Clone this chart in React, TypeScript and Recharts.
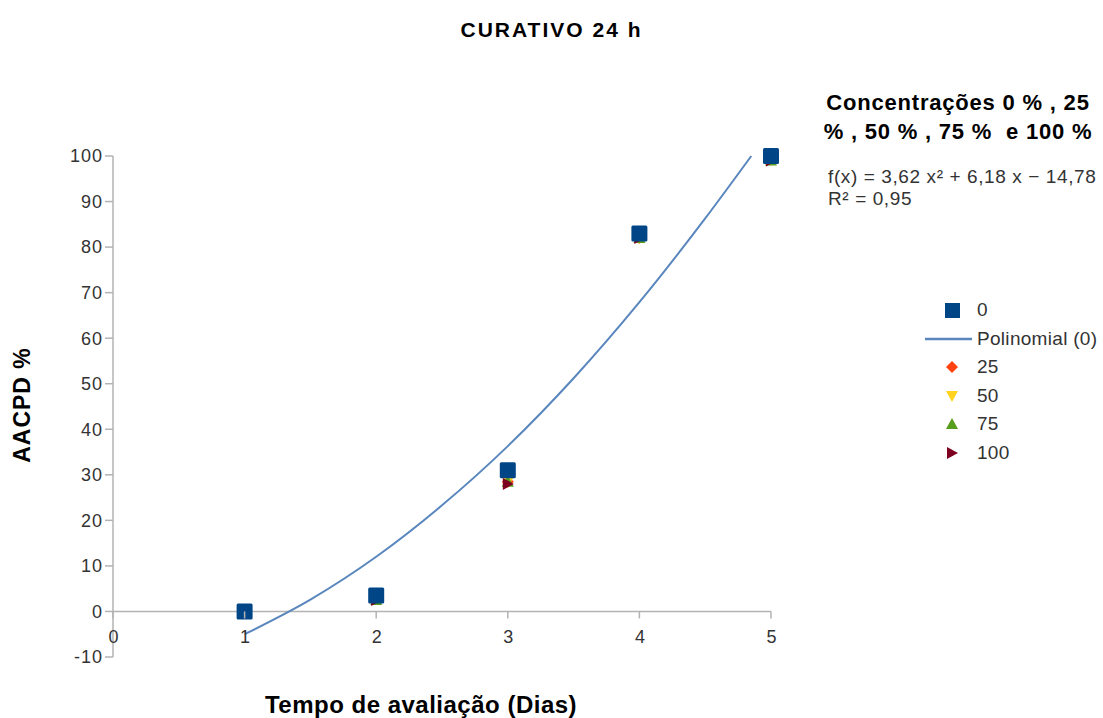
import { ComposedChart, Line, ReferenceLine, Scatter, XAxis, YAxis } from "recharts";

const days = [1, 2, 3, 4, 5];
const conc0 = [0, 3.5, 31, 83, 100];
const conc25 = [0, 3, 28.5, 82, 99.5];
const conc50 = [0, 3, 28.5, 82, 99];
const conc75 = [0, 2.5, 28.5, 82, 99];
const conc100 = [0, 2.5, 28, 82, 99];

// trend line points
const trendX = [1, 1.5, 2, 2.5, 3, 3.5, 4, 4.5, 4.85];
const trendY = [-5, 2.6, 12, 23.3, 36.3, 51.2, 67.9, 86.3, 100];

const xTicks = [0, 1, 2, 3, 4, 5];
const yTicks = [-10, 0, 10, 20, 30, 40, 50, 60, 70, 80, 90, 100];

const W = 1103;
const H = 718;
const PLOT_LEFT = 113;
const PLOT_RIGHT = 771;
const PLOT_TOP = 156;
const PLOT_BOTTOM = 657;
const X_AXIS_H = 30;
const Y_MIN = -10;
const Y_MAX = 100;
const Y_ZERO = PLOT_BOTTOM - ((0 - Y_MIN) / (Y_MAX - Y_MIN)) * (PLOT_BOTTOM - PLOT_TOP);

const FONT = "'Liberation Sans', Arial, sans-serif";
const AXIS = "#b3b3b3";
const TEXT = "#333333";

const C0 = "#004586";
const C25 = "#ff420e";
const C50 = "#ffd320";
const C75 = "#579d1c";
const C100 = "#7e0021";
const TREND = "#5a86be";

const toPoints = (ys: number[]) => days.map((x, i) => ({ x, y: ys[i] }));
const trendData = trendX.map((x, i) => ({ x, y: trendY[i] }));

const Square = (p: any) => (
  <rect x={p.cx - 8} y={p.cy - 8} width={16} height={16} rx={1.5} fill={C0} />
);
const Diamond = (p: any) => (
  <path d={`M${p.cx},${p.cy - 6} L${p.cx + 6},${p.cy} L${p.cx},${p.cy + 6} L${p.cx - 6},${p.cy} Z`} fill={C25} />
);
const TriDown = (p: any) => (
  <path d={`M${p.cx - 6},${p.cy - 5} L${p.cx + 6},${p.cy - 5} L${p.cx},${p.cy + 6} Z`} fill={C50} />
);
const TriUp = (p: any) => (
  <path d={`M${p.cx - 6},${p.cy + 5} L${p.cx + 6},${p.cy + 5} L${p.cx},${p.cy - 6} Z`} fill={C75} />
);
const TriRight = (p: any) => (
  <path d={`M${p.cx - 5},${p.cy - 6} L${p.cx - 5},${p.cy + 6} L${p.cx + 6},${p.cy} Z`} fill={C100} />
);

const XTick = (p: any) => (
  <g>
    <line x1={p.x} x2={p.x} y1={Y_ZERO} y2={Y_ZERO + 7} stroke={AXIS} strokeWidth={1.5} />
    <text
      x={p.x + 1}
      y={Y_ZERO + 32}
      textAnchor="middle"
      fill={TEXT}
      fontSize={18}
      letterSpacing={1}
      fontFamily={FONT}
    >
      {p.payload.value}
    </text>
  </g>
);

const legendRows: { label: string; icon: any }[] = [
  { label: "0", icon: <rect x={20} y={4} width={15} height={15} fill={C0} /> },
  { label: "Polinomial (0)", icon: <line x1={0} x2={47} y1={11} y2={11} stroke={TREND} strokeWidth={2.5} /> },
  { label: "25", icon: <path d="M27,5 L33,11 L27,17 L21,11 Z" fill={C25} /> },
  { label: "50", icon: <path d="M21,6 L33,6 L27,17 Z" fill={C50} /> },
  { label: "75", icon: <path d="M21,16 L33,16 L27,5 Z" fill={C75} /> },
  { label: "100", icon: <path d="M22,5 L22,17 L33,11 Z" fill={C100} /> },
];

export default function App() {
  return (
    <div style={{ position: "absolute", left: 0, top: 0, width: W, height: H, background: "#fff", fontFamily: FONT }}>
      <ComposedChart
        width={W}
        height={H}
        margin={{ top: PLOT_TOP, right: W - PLOT_RIGHT, bottom: H - PLOT_BOTTOM - X_AXIS_H, left: 0 }}
      >
        <XAxis
          type="number"
          dataKey="x"
          domain={[0, 5]}
          ticks={xTicks}
          height={X_AXIS_H}
          axisLine={false}
          tickLine={false}
          tick={XTick}
          interval={0}
        />
        <YAxis
          type="number"
          dataKey="y"
          domain={[Y_MIN, Y_MAX]}
          ticks={yTicks}
          width={PLOT_LEFT}
          axisLine={{ stroke: AXIS, strokeWidth: 1.5 }}
          tickLine={{ stroke: AXIS, strokeWidth: 1.5 }}
          tickSize={8}
          tick={{ fill: TEXT, fontSize: 18, fontFamily: FONT, letterSpacing: 1 }}
          interval={0}
        />
        <ReferenceLine y={0} stroke={AXIS} strokeWidth={1.5} />
        <Line
          data={trendData}
          dataKey="y"
          type="monotone"
          stroke={TREND}
          strokeWidth={2}
          dot={false}
          isAnimationActive={false}
        />
        <Scatter data={toPoints(conc25)} shape={Diamond} isAnimationActive={false} />
        <Scatter data={toPoints(conc50)} shape={TriDown} isAnimationActive={false} />
        <Scatter data={toPoints(conc75)} shape={TriUp} isAnimationActive={false} />
        <Scatter data={toPoints(conc100)} shape={TriRight} isAnimationActive={false} />
        <Scatter data={toPoints(conc0)} shape={Square} isAnimationActive={false} />
      </ComposedChart>

      <div
        style={{
          position: "absolute",
          left: 0,
          width: W,
          top: 17,
          lineHeight: "26px",
          textAlign: "center",
          fontSize: 21,
          fontWeight: "bold",
          letterSpacing: 2,
          color: "#000",
        }}
      >
        CURATIVO 24 h
      </div>
      <div
        style={{
          position: "absolute",
          left: 22,
          top: 405,
          transform: "translate(-50%, -50%) rotate(-90deg)",
          fontSize: 23,
          fontWeight: "bold",
          whiteSpace: "nowrap",
          letterSpacing: 1,
          color: "#000",
        }}
      >
        AACPD %
      </div>
      <div
        style={{
          position: "absolute",
          left: 421,
          top: 691,
          lineHeight: "28px",
          transform: "translateX(-50%)",
          fontSize: 24,
          fontWeight: "bold",
          letterSpacing: 0.5,
          whiteSpace: "nowrap",
          color: "#000",
        }}
      >
        Tempo de avaliação (Dias)
      </div>
      <div
        style={{
          position: "absolute",
          left: 808,
          width: 300,
          top: 88,
          textAlign: "center",
          fontSize: 22,
          fontWeight: "bold",
          letterSpacing: 0.8,
          lineHeight: "29px",
          color: "#000",
          whiteSpace: "nowrap",
        }}
      >
        Concentrações 0 % , 25
        <br />% , 50 % , 75 %&nbsp; e 100 %
      </div>
      <div
        style={{
          position: "absolute",
          left: 828,
          top: 166,
          fontSize: 19,
          letterSpacing: 0.6,
          lineHeight: "22px",
          color: TEXT,
          whiteSpace: "nowrap",
        }}
      >
        f(x) = 3,62 x² + 6,18 x − 14,78
        <br />
        R² = 0,95
      </div>
      <div style={{ position: "absolute", left: 925, top: 296 }}>
        {legendRows.map((r) => (
          <div key={r.label} style={{ display: "flex", alignItems: "center", height: 28.5 }}>
            <svg width={50} height={22}>
              {r.icon}
            </svg>
            <span style={{ fontSize: 19, letterSpacing: 0.3, color: TEXT, marginLeft: 2, whiteSpace: "nowrap" }}>
              {r.label}
            </span>
          </div>
        ))}
      </div>
    </div>
  );
}
